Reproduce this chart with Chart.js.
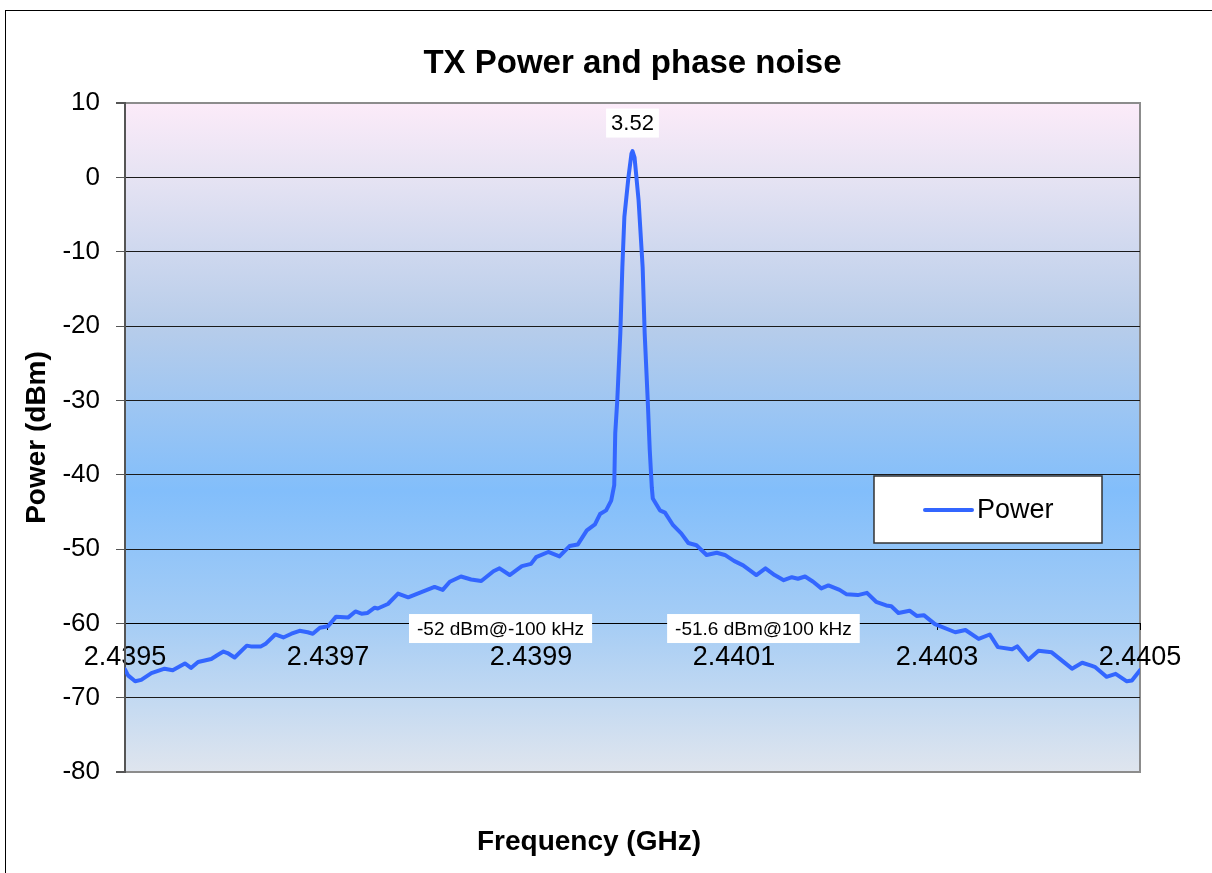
<!DOCTYPE html>
<html>
<head>
<meta charset="utf-8">
<title>TX Power and phase noise</title>
<script src="https://cdn.jsdelivr.net/npm/chart.js@4.4.1/dist/chart.umd.min.js"></script>
<style>
  html, body { margin: 0; padding: 0; background: #fff; }
</style>
</head>
<body>
<canvas id="chartContainer" width="1212" height="873"></canvas>
<script>
// frequency in GHz
const freqGHz = [
    2.439500, 2.439503, 2.439510, 2.439516, 2.439526, 2.439539, 2.439547, 2.439559, 2.439565, 2.439572,
    2.439585, 2.439592, 2.439597, 2.439601, 2.439608, 2.439620, 2.439624, 2.439634, 2.439639, 2.439648,
    2.439656, 2.439664, 2.439672, 2.439680, 2.439685, 2.439692, 2.439700, 2.439708, 2.439720, 2.439727,
    2.439733, 2.439739, 2.439746, 2.439749, 2.439759, 2.439769, 2.439779, 2.439792, 2.439805, 2.439813,
    2.439820, 2.439831, 2.439841, 2.439851, 2.439863, 2.439869, 2.439879, 2.439891, 2.439900, 2.439905,
    2.439917, 2.439928, 2.439938, 2.439946, 2.439955, 2.439963, 2.439968, 2.439974, 2.439979, 2.439982,
    2.439983, 2.439985, 2.439988, 2.439990, 2.439992, 2.439996, 2.439999, 2.440000,
    2.440002, 2.440006, 2.440010, 2.440012, 2.440015, 2.440017, 2.440019, 2.440020, 2.440027, 2.440032,
    2.440040, 2.440048, 2.440055, 2.440063, 2.440073, 2.440083, 2.440091, 2.440100, 2.440109, 2.440122,
    2.440131, 2.440140, 2.440149, 2.440157, 2.440163, 2.440170, 2.440178, 2.440186, 2.440193, 2.440204,
    2.440211, 2.440222, 2.440231, 2.440240, 2.440250, 2.440255, 2.440262, 2.440273, 2.440280, 2.440287,
    2.440298, 2.440318, 2.440328, 2.440341, 2.440352, 2.440360, 2.440374, 2.440379, 2.440390, 2.440400,
    2.440413, 2.440433, 2.440443, 2.440452, 2.440456, 2.440467, 2.440476, 2.440487, 2.440492, 2.440500
];

// power in dBm
const powerDbm = [
    -66.2, -67.0, -67.8, -67.6, -66.7, -66.1, -66.3, -65.4, -66.0, -65.2,
    -64.8, -64.2, -63.8, -64.0, -64.6, -63.0, -63.1, -63.1, -62.7, -61.5,
    -61.9, -61.4, -61.0, -61.2, -61.4, -60.6, -60.4, -59.1, -59.2, -58.4,
    -58.7, -58.6, -57.9, -58.0, -57.4, -56.0, -56.5, -55.8, -55.1, -55.5,
    -54.4, -53.7, -54.1, -54.3, -53.0, -52.6, -53.5, -52.3, -52.0, -51.1,
    -50.4, -51.0, -49.6, -49.4, -47.5, -46.7, -45.3, -44.8, -43.5, -41.4,
    -34.4, -30.0, -21.0, -12.1, -5.3, 0.0, 3.2, 3.52,
    2.7, -3.1, -12.1, -21.0, -30.0, -36.7, -41.7, -43.2, -44.8, -45.1,
    -46.8, -47.9, -49.2, -49.5, -50.8, -50.5, -50.8, -51.6, -52.2, -53.5,
    -52.6, -53.5, -54.2, -53.8, -54.0, -53.7, -54.4, -55.3, -54.9, -55.5,
    -56.1, -56.2, -55.9, -57.1, -57.6, -57.7, -58.6, -58.3, -59.0, -58.9,
    -60.1, -61.2, -60.9, -62.1, -61.5, -63.2, -63.5, -63.1, -64.9, -63.7,
    -63.9, -66.1, -65.3, -65.7, -65.9, -67.2, -66.8, -67.8, -67.7, -66.3
];

// data label texts and where they sit (GHz, dBm)
const noteTexts = ['3.52', '-52 dBm@-100 kHz', '-51.6 dBm@100 kHz'];
const noteFreq = [2.44, 2.43987, 2.440129];
const noteDbm = [7.3, -60.7, -60.7];

const FONT = '"Liberation Sans", Arial, Helvetica, sans-serif';
Chart.defaults.font.family = FONT;
Chart.defaults.color = '#000';

/**
 * Plot area gradient, outer frame, legend box and data labels.
 */
const chartDecor = {
    id: 'chartDecor',
    beforeDraw(chart) {
        const { ctx, chartArea: a } = chart;
        ctx.save();
        ctx.strokeStyle = '#000';
        ctx.lineWidth = 1;
        ctx.strokeRect(5.5, 10.5, 1230, 900);

        const g = ctx.createLinearGradient(0, a.top, 0, a.bottom);
        g.addColorStop(0, '#fcebf9');
        g.addColorStop(0.11, '#e6e3f3');
        g.addColorStop(0.33, '#b8cdea');
        g.addColorStop(0.58, '#82befb');
        g.addColorStop(0.78, '#a6cdf5');
        g.addColorStop(1, '#dfe5ee');
        ctx.fillStyle = g;
        ctx.fillRect(a.left, a.top, a.width, a.height);
        ctx.strokeStyle = '#8c8c8c';
        ctx.lineWidth = 2;
        ctx.strokeRect(a.left, a.top, a.width, a.height);
        ctx.restore();
    },
    afterDraw(chart) {
        const { ctx, chartArea: a } = chart;
        const xs = chart.scales.x;
        const ys = chart.scales.y;
        ctx.save();

        // data labels
        noteTexts.forEach((txt, i) => {
            const size = i === 0 ? 22 : 19;
            ctx.font = size + 'px ' + FONT;
            const w = ctx.measureText(txt).width + (i === 0 ? 10 : 16);
            const h = 29;
            const cx = xs.getPixelForValue(noteFreq[i]);
            const cy = ys.getPixelForValue(noteDbm[i]);
            ctx.fillStyle = '#fff';
            ctx.fillRect(cx - w / 2, cy - h / 2, w, h);
            ctx.fillStyle = '#000';
            ctx.textAlign = 'center';
            ctx.textBaseline = 'middle';
            ctx.fillText(txt, cx, cy + 1);
        });

        // legend
        const ds = chart.data.datasets[0];
        const lx = a.right - 266, ly = a.top + 373, lw = 228, lh = 67;
        ctx.fillStyle = '#fff';
        ctx.fillRect(lx, ly, lw, lh);
        ctx.strokeStyle = '#333';
        ctx.lineWidth = 1.5;
        ctx.strokeRect(lx, ly, lw, lh);
        ctx.strokeStyle = ds.borderColor;
        ctx.lineWidth = 4;
        ctx.lineCap = 'round';
        ctx.beginPath();
        ctx.moveTo(lx + 51, ly + 34);
        ctx.lineTo(lx + 98, ly + 34);
        ctx.stroke();
        ctx.fillStyle = '#000';
        ctx.font = '27px ' + FONT;
        ctx.textAlign = 'left';
        ctx.textBaseline = 'middle';
        ctx.fillText(ds.label, lx + 103, ly + 35);
        ctx.restore();
    }
};

const isEdge = v => v === 10 || v === -80;

new Chart(document.getElementById('chartContainer'), {
    type: 'line',
    data: {
        datasets: [{
            label: 'Power',
            data: freqGHz.map((f, i) => ({ x: f, y: powerDbm[i] })),
            borderColor: '#3366ff',
            borderWidth: 4,
            borderJoinStyle: 'round',
            borderCapStyle: 'round',
            pointRadius: 0,
            tension: 0,
            fill: false
        }]
    },
    options: {
        responsive: false,
        animation: false,
        layout: { padding: { left: 0, right: 34, top: 0, bottom: 0 } },
        scales: {
            x: {
                type: 'linear',
                position: { y: -60 },
                min: 2.4395,
                max: 2.4405,
                ticks: {
                    stepSize: 0.0002,
                    callback: v => v.toFixed(4),
                    font: { size: 27 },
                    color: '#000',
                    padding: 12,
                    maxRotation: 0,
                    autoSkip: false
                },
                grid: { drawOnChartArea: false, drawTicks: true, tickLength: 6, color: '#000' },
                border: { display: true, color: '#000', width: 1 },
                afterFit: s => { s.height = 0; s.paddingLeft = 0; s.paddingRight = 0; }
            },
            y: {
                min: -80,
                max: 10,
                ticks: { stepSize: 10, font: { size: 26 }, color: '#000', padding: 16 },
                grid: {
                    color: c => (c.tick && isEdge(c.tick.value)) ? '#8c8c8c' : '#1a1a1a',
                    lineWidth: c => (c.tick && isEdge(c.tick.value)) ? 2 : 1,
                    tickColor: '#555',
                    tickLength: 9
                },
                border: { display: true, color: '#555', width: 2 },
                title: {
                    display: true,
                    text: 'Power (dBm)',
                    font: { size: 28, weight: 'bold' },
                    color: '#000',
                    padding: { top: 20, bottom: 0 }
                },
                afterFit: s => { s.width = 125; }
            },
            y2: {
                type: 'linear',
                position: 'right',
                display: true,
                grid: { display: false },
                ticks: { display: false },
                border: { display: false },
                afterFit: s => { s.width = 38; }
            }
        },
        plugins: {
            legend: { display: false },
            tooltip: { enabled: false },
            title: {
                display: true,
                text: 'TX Power and phase noise',
                fullSize: false,
                font: { size: 33, weight: 'bold' },
                color: '#000',
                padding: { top: 44, bottom: 19.4 }
            },
            subtitle: {
                display: true,
                text: 'Frequency (GHz)',
                position: 'bottom',
                fullSize: true,
                font: { size: 28, weight: 'bold' },
                color: '#000',
                padding: { top: 53.2, bottom: 14.2 }
            }
        }
    },
    plugins: [chartDecor]
});
</script>
</body>
</html>
